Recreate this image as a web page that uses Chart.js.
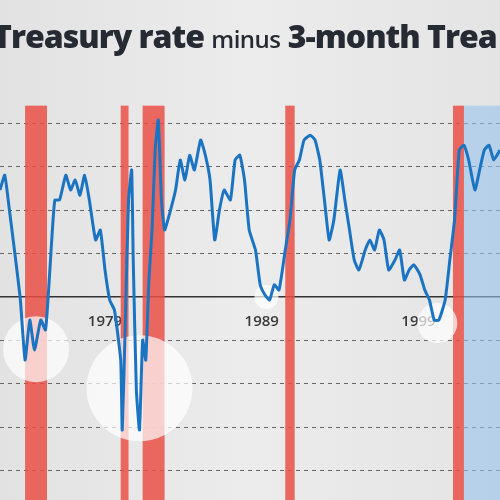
<!DOCTYPE html>
<html><head><meta charset="utf-8">
<script src="https://cdn.jsdelivr.net/npm/chart.js@4"></script>
<style>
html,body{margin:0;padding:0;width:500px;height:500px;overflow:hidden;background:#e4e4e4;}
#wrap{position:absolute;left:0;top:0;width:500px;height:500px;background:linear-gradient(90deg,#e2e2e2,#ececec 50%,#e4e4e4);}
#title{position:absolute;left:-7px;top:14px;white-space:nowrap;font-family:"Open Sans",sans-serif;font-weight:800;font-size:32px;color:#262b33;letter-spacing:-1px;}
#title span{font-weight:600;font-size:24px;letter-spacing:-0.5px;}
</style></head><body>
<div id="wrap"><canvas id="c" width="500" height="500"></canvas></div>
<div id="title">Treasury rate <span>minus</span> 3-month Trea</div>
<script>
const years=[1972.3,1972.6,1972.9,1973.3,1973.6,1973.9,1974.2,1974.5,1974.9,1975.2,1975.4,1975.6,1975.8,1976.1,1976.5,1976.8,1977.1,1977.4,1977.7,1978.0,1978.4,1978.7,1979.0,1979.3,1979.6,
1980.0,1980.1,1980.3,1980.5,1980.7,1980.8,1981.0,1981.2,1981.4,1981.6,1981.8,1982.0,1982.2,1982.4,1982.6,1982.8,
1983.1,1983.5,1983.8,1984.1,1984.4,1984.7,1985.1,1985.4,1985.7,1986.0,1986.3,1986.6,1987.0,1987.3,1987.6,1987.9,1988.2,1988.6,1988.9,1989.2,1989.5,1989.8,1990.1,1990.5,1990.8,1991.1,1991.4,1991.7,1992.1,1992.4,1992.7,1993.0,1993.3,1993.6,1994.0,1994.3,1994.6,1994.9,1995.2,1995.6,1995.9,1996.2,1996.5,1996.8,1997.1,1997.5,1997.8,1998.1,1998.4,1998.7,1999.1,1999.4,1999.7,2000.0,2000.3,2000.7,2001.0,2001.3,2001.6,2001.9,2002.2,2002.6,2002.9,2003.2,2003.5,2003.8,2004.2];
const spread=[2.46,2.80,2.0,0.85,-0.07,-1.45,-0.53,-1.22,-0.53,-0.76,0.16,1.31,2.23,2.23,2.80,2.46,2.69,2.34,2.80,2.23,1.31,1.54,0.62,-0.07,-0.30,
-1.45,-3.06,-0.53,2.23,2.92,0.85,-2.14,-3.06,-0.99,-1.45,0.39,1.54,3.38,4.07,2.23,1.54,
1.89,2.46,3.15,2.69,3.26,2.92,3.61,3.26,2.69,1.31,2.0,2.46,2.23,3.15,3.26,2.69,1.54,1.08,0.28,0.05,-0.07,0.28,0.16,1.08,1.77,2.92,3.15,3.61,3.72,3.61,3.15,2.23,1.31,1.77,2.92,2.23,1.54,0.85,0.62,1.08,1.31,1.08,1.54,1.31,0.62,0.85,1.08,0.39,0.62,0.74,0.51,0.16,-0.07,-0.53,-0.53,-0.07,0.85,1.77,3.38,3.49,3.15,2.46,2.92,3.38,3.49,3.15,3.38];
const tickYears=[1979,1989,1999];
const recessions=[[1973.9,1975.3],[1980.0,1980.5],[1981.4,1982.8],[1990.5,1991.1],[2001.2,2001.9]];
const blueRegion=[2001.9,2004.3];
const circles=[[1974.6,-1.2,33],[1981.2,-2.1,53],[1989.3,0,12],[2000.2,-0.6,20]];

const bg={id:'bg',beforeDatasetsDraw(ch){const {ctx,chartArea:a,scales:{x,y}}=ch;ctx.save();
 const top=y.getPixelForValue(4.4);
 const b0=x.getPixelForValue(blueRegion[0]),b1=x.getPixelForValue(blueRegion[1]);
 ctx.fillStyle='rgba(150,195,235,0.6)';ctx.fillRect(b0,top,b1-b0,a.bottom-top);
 ctx.fillStyle='rgba(233,80,70,0.85)';
 recessions.forEach(r=>{const x0=x.getPixelForValue(r[0]),x1=x.getPixelForValue(r[1]);ctx.fillRect(x0,top,x1-x0,a.bottom-top);});
 ctx.fillStyle='rgba(255,255,255,0.7)';
 circles.forEach(c=>{ctx.beginPath();ctx.arc(x.getPixelForValue(c[0]),y.getPixelForValue(c[1]),c[2],0,Math.PI*2);ctx.fill();});
 ctx.restore();}};

new Chart(document.getElementById('c'),{type:'line',
 data:{datasets:[{data:years.map((v,i)=>({x:v,y:spread[i]})),borderColor:'#1b74c2',borderWidth:3,pointRadius:0,tension:0.15}]},
 options:{responsive:false,animation:false,layout:{padding:0},
  plugins:{legend:{display:false},tooltip:{enabled:false}},
  scales:{
   x:{type:'linear',min:1972.3,max:2004.2,position:{y:0},
      afterBuildTicks(s){s.ticks=tickYears.map(v=>({value:v}));},
      grid:{display:false},border:{display:true,color:'#333',width:1.5},
      ticks:{color:'#3a3a3a',font:{family:'Open Sans',size:15,weight:'600'},padding:8,callback:v=>String(v)}},
   y:{min:-4.67,max:6.83,afterBuildTicks(s){s.ticks=[-4,-3,-2,-1,1,2,3,4].map(v=>({value:v}));},
      ticks:{display:false},border:{display:false,dash:[4,4]},
      grid:{color:'#666',lineWidth:1,drawTicks:false}}
  }},
 plugins:[bg]});
</script></body></html>
